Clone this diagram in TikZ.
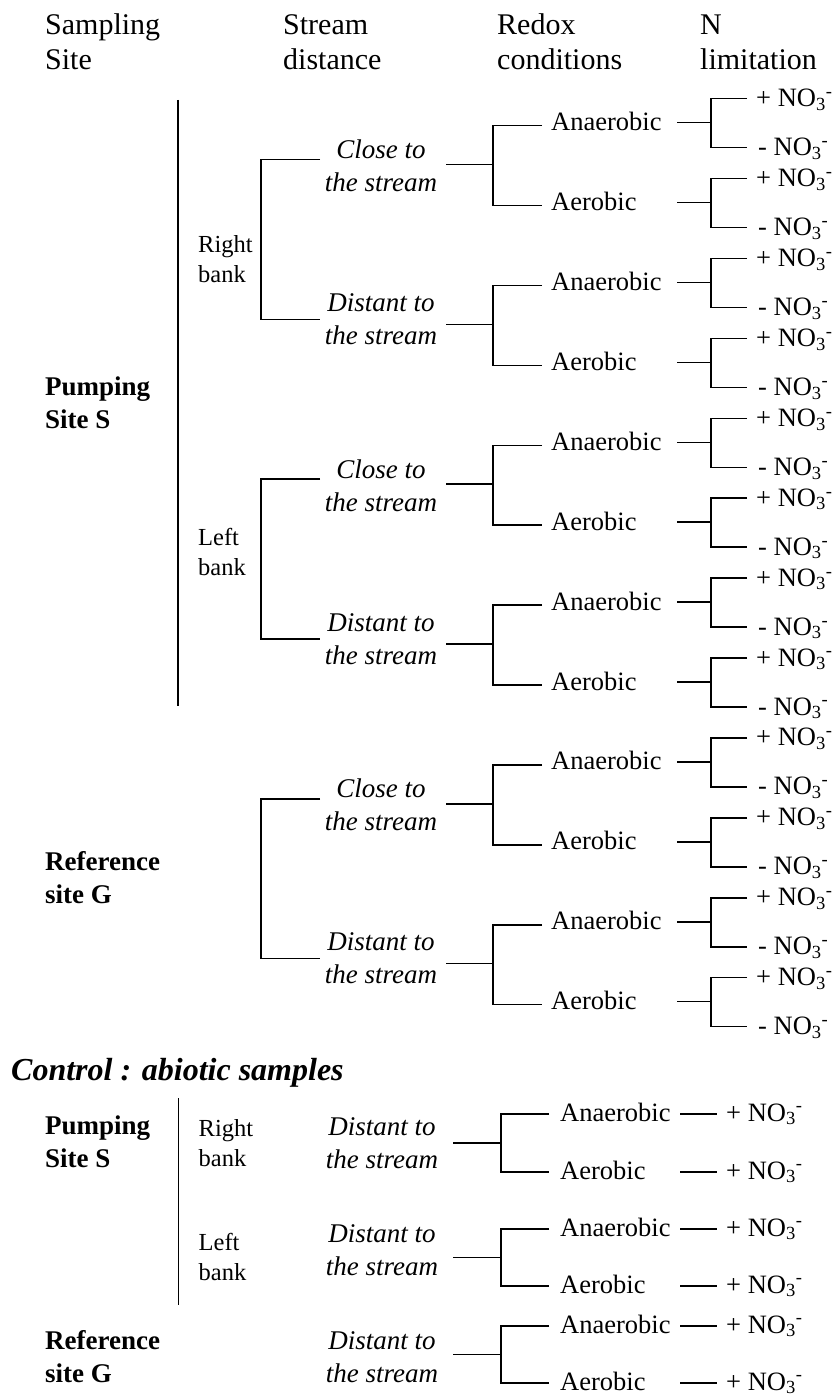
\documentclass[tikz,border=0pt]{standalone}
\usepackage{fontspec}
\setmainfont{Liberation Serif}

\begin{document}
\begin{tikzpicture}[x=1pt,y=-1pt,
    br/.style={line width=1.6pt},
    hd/.style={anchor=base west,inner sep=0,align=left,font=\fontsize{30}{35}\selectfont},
    site/.style={anchor=base west,inner sep=0,align=left,font=\fontsize{27}{33}\selectfont\bfseries},
    bank/.style={anchor=base west,inner sep=0,align=left,font=\fontsize{24.5}{30}\selectfont},
    strm/.style={anchor=base,inner sep=0,align=center,font=\fontsize{27}{33}\selectfont\itshape},
    rdx/.style={anchor=base west,inner sep=0,font=\fontsize{26.5}{30}\selectfont},
    leaf/.style={anchor=base west,inner sep=0,font=\fontsize{26.5}{30}\selectfont}]
  \useasboundingbox (0,0) rectangle (835,1396);

  % column heads (base = last line)
  \node[hd] (hs) at (45,70) {Sampling\\Site};
  \node[hd] (hd) at (283,70) {Stream\\distance};
  \node[hd] (hr) at (497,70) {Redox\\conditions};
  \node[hd] (hn) at (700,70) {N\\limitation};

  % redox and N leaves
  \foreach \k in {0,...,11}{
    \pgfmathsetmacro\c{122.7+79.9*\k}
    \node[rdx] (r\k) at (551,\c+8) {\ifodd\k\relax Aerobic\else Anaerobic\fi};
    \node[leaf] (p\k) at (756,\c-16) {+ NO\textsubscript{3}\textsuperscript{-}};
    \node[leaf] (m\k) at (758,\c+33) {- NO\textsubscript{3}\textsuperscript{-}};
    \coordinate (j\k) at (677,\c);
    \draw[br] (j\k) -- ++(34,0) coordinate (k\k);
    \draw[br] ([xshift=-9pt,yshift=8pt]p\k.base west) -| (k\k) |- ([xshift=-11pt,yshift=8pt]m\k.base west);
  }
  % stream distance
  \foreach \p in {0,...,5}{
    \pgfmathtruncatemacro\a{2*\p}
    \pgfmathtruncatemacro\b{2*\p+1}
    \pgfmathsetmacro\m{162.65+159.8*\p}
    \coordinate (q\p) at (446,\m+2);
    \draw[br] (q\p) -- ++(47,0) coordinate (v\p);
    \draw[br] ([xshift=-9pt,yshift=5pt]r\a.base west) -| (v\p) |- ([xshift=-9pt,yshift=5pt]r\b.base west);
    \coordinate (t\p) at (320,\m-3);
  }
  \foreach \p in {0,2,4}
    \node[strm] (s\p) at (381,{162.65+159.8*\p+29}) {Close to\\the stream};
  \foreach \p in {1,3,5}
    \node[strm] (s\p) at (381,{162.65+159.8*\p+22}) {Distant to\\the stream};
  \foreach \a/\b in {0/1,2/3,4/5}
    \draw[br] (t\a) -- ++(-59,0) |- (t\b);

  % sites and banks
  \draw[br] (178,100) -- (178,706);
  \node[site] (pS) at (45,428) {Pumping\\Site S};
  \node[site] (rG) at (45,903) {Reference\\site G};
  \node[bank] (rb) at (198,283) {Right\\bank};
  \node[bank] (lb) at (198,575) {Left\\bank};

  % controls
  \node[anchor=base west,inner sep=0,font=\fontsize{32}{36}\selectfont\bfseries\itshape] (ctl) at (11,1080) {Control : abiotic samples};
  \draw[br] (178.5,1098) -- (178.5,1305);
  \foreach \y/\t [count=\i] in {1114/Anaerobic,1172/Aerobic,1229/Anaerobic,1286/Aerobic,1326/Anaerobic,1383/Aerobic}{
    \node[rdx] (cr\i) at (560,\y+7) {\t};
    \node[leaf] (cp\i) at (726,\y+7) {+ NO\textsubscript{3}\textsuperscript{-}};
    \coordinate (cj\i) at (680,\y);
    \draw[br] (cj\i) -- ([xshift=-9pt,yshift=7pt]cp\i.base west);
  }
  \foreach \m/\d/\a/\b [count=\i] in {1143/1168/1/2,1257.5/1275/3/4,1354.5/1382/5/6}{
    \coordinate (cq\i) at (453,\m);
    \draw[br] (cq\i) -- ++(48,0) coordinate (cv\i);
    \draw[br] ([xshift=-11pt,yshift=7pt]cr\a.base west) -| (cv\i) |- ([xshift=-11pt,yshift=7pt]cr\b.base west);
    \node[strm] (cs\i) at (382,\d) {Distant to\\the stream};
  }
  \node[site] (cpS) at (45,1167) {Pumping\\Site S};
  \node[site] (crG) at (45,1382) {Reference\\site G};
  \node[bank] (crb) at (198.5,1166) {Right\\bank};
  \node[bank] (clb) at (198.5,1280) {Left\\bank};
\end{tikzpicture}
\end{document}
